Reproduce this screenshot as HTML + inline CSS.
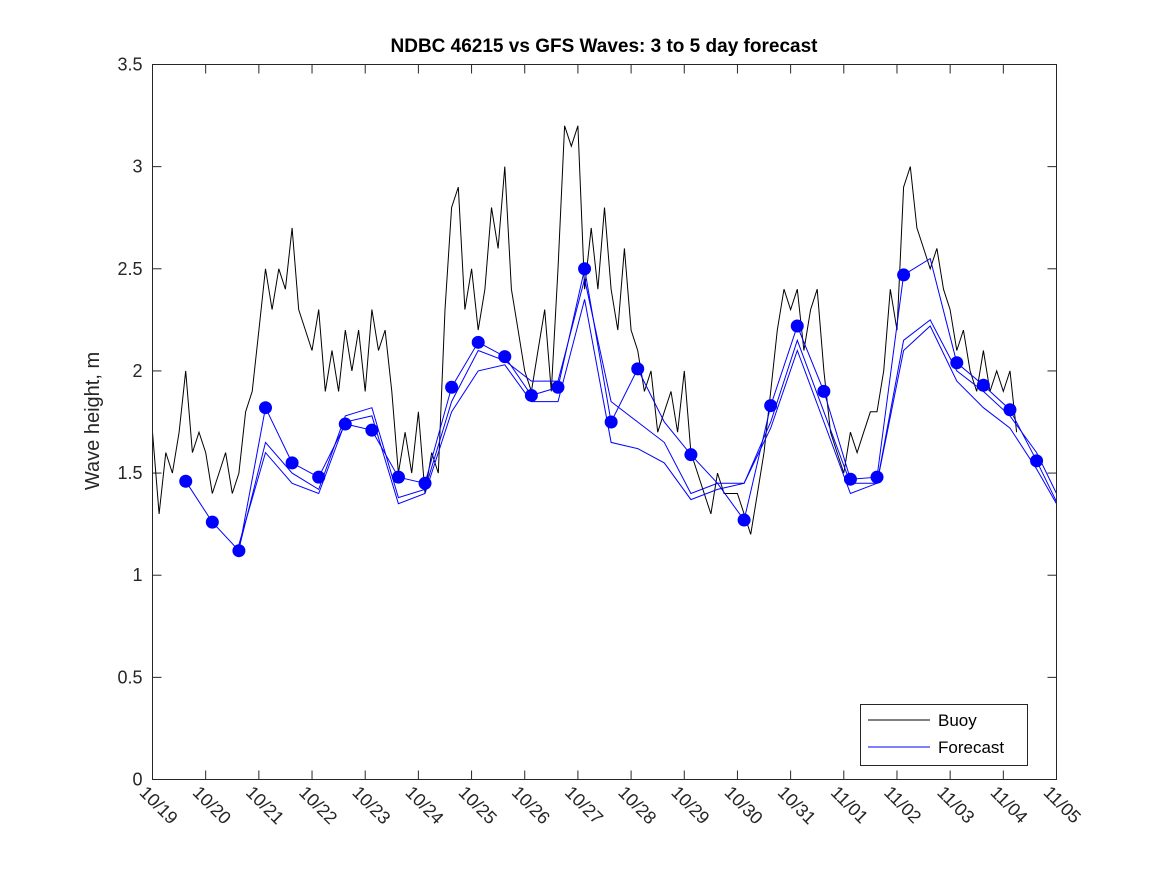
<!DOCTYPE html>
<html><head><meta charset="utf-8"><style>
body{margin:0;background:#fff}
svg{font-family:"Liberation Sans",sans-serif}
</style></head><body>
<svg id="chart" width="1167" height="875">
<rect x="0" y="0" width="1167" height="875" fill="#fff"/>
<text x="604" y="52" text-anchor="middle" font-size="19" font-weight="bold" fill="#000">NDBC 46215 vs GFS Waves: 3 to 5 day forecast</text>
<text transform="translate(99,421) rotate(-90)" text-anchor="middle" font-size="20" fill="#262626">Wave height, m</text>
<g id="plot"></g>
<rect x="152.5" y="64.5" width="904" height="715" fill="none" stroke="#262626" stroke-width="1"/>
<g>
<rect x="860.5" y="704.5" width="167" height="61" fill="#fff" stroke="#262626"/>
<line x1="868" y1="720" x2="930" y2="720" stroke="#000"/>
<text x="938" y="726" font-size="17" fill="#000">Buoy</text>
<line x1="868" y1="747" x2="930" y2="747" stroke="#00f"/>
<text x="938" y="753" font-size="17" fill="#000">Forecast</text>
</g>
</svg>
<script>
const xTickLabels=["10/19","10/20","10/21","10/22","10/23","10/24","10/25","10/26","10/27","10/28","10/29","10/30","10/31","11/01","11/02","11/03","11/04","11/05"];
const yTicks=[0,0.5,1,1.5,2,2.5,3,3.5];
const yTickLabels=["0","0.5","1","1.5","2","2.5","3","3.5"];
const buoy=[1.7,1.3,1.6,1.5,1.7,2.0,1.6,1.7, 1.6,1.4,1.5,1.6,1.4,1.5,1.8,1.9, 2.2,2.5,2.3,2.5,2.4,2.7,2.3,2.2, 2.1,2.3,1.9,2.1,1.9,2.2,2.0,2.2, 1.9,2.3,2.1,2.2,1.9,1.5,1.7,1.5, 1.8,1.4,1.6,1.5,2.3,2.8,2.9,2.3, 2.5,2.2,2.4,2.8,2.6,3.0,2.4,2.2, 2.0,1.9,2.1,2.3,1.9,2.5,3.2,3.1, 3.2,2.4,2.7,2.4,2.8,2.4,2.2,2.6, 2.2,2.1,1.9,2.0,1.7,1.8,1.9,1.7, 2.0,1.6,1.5,1.4,1.3,1.5,1.4,1.4, 1.4,1.3,1.2,1.4,1.6,1.9,2.2,2.4, 2.3,2.4,2.1,2.3,2.4,2.0,1.7,1.6, 1.5,1.7,1.6,1.7,1.8,1.8,2.0,2.4, 2.2,2.9,3.0,2.7,2.6,2.5,2.6,2.4, 2.3,2.1,2.2,2.0,1.9,2.1,1.9,2.0, 1.9,2.0,1.7];
const fcA=[1.46,1.26,1.12,1.82,1.55,1.48,1.74,1.71,1.48,1.45,1.92,2.14,2.07,1.88,1.92,2.50,1.75,2.01,1.75,1.59,1.45,1.27,1.83,2.22,1.90,1.47,1.48,2.47,2.55,2.04,1.93,1.81,1.56,1.36];
const fcB=[null,null,1.13,1.65,1.50,1.42,1.78,1.82,1.38,1.42,1.85,2.10,2.05,1.95,1.95,2.45,1.85,1.75,1.65,1.40,1.45,1.45,1.75,2.15,1.80,1.45,1.45,2.15,2.25,2.00,1.90,1.78,1.60,1.40];
const fcC=[null,null,1.15,1.60,1.45,1.40,1.75,1.78,1.35,1.40,1.80,2.00,2.03,1.85,1.85,2.35,1.65,1.62,1.55,1.37,1.42,1.45,1.72,2.10,1.75,1.40,1.45,2.10,2.22,1.95,1.82,1.72,1.52,1.35];
const dots=[1.46,1.26,1.12,1.82,1.55,1.48,1.74,1.71,1.48,1.45,1.92,2.14,2.07,1.88,1.92,2.50,1.75,2.01,null,1.59,null,1.27,1.83,2.22,1.90,1.47,1.48,2.47,null,2.04,1.93,1.81,1.56];

const X0=152.5,X1=1056.5,Y0=779.5,Y1=64.5;
const xs=d=>X0+(X1-X0)*d/17;
const ys=v=>Y0-(Y0-Y1)*v/3.5;
const NS="http://www.w3.org/2000/svg";
const plot=document.getElementById('plot');
function mk(t,a){const e=document.createElementNS(NS,t);for(const k in a)e.setAttribute(k,a[k]);plot.appendChild(e);return e;}

yTicks.forEach((v,i)=>{
  const y=ys(v);
  const t1=mk('line',{x1:X0,y1:y,x2:X0+9,y2:y,stroke:'#262626'});
  
  
  const t2=mk('line',{x1:X1-9,y1:y,x2:X1,y2:y,stroke:'#262626'});
  
  
  const tx=mk('text',{x:X0-10,y:y+6,'text-anchor':'end','font-size':'18',fill:'#262626'});
  tx.textContent=yTickLabels[i];
  
  
});
xTickLabels.forEach((l,i)=>{
  const x=xs(i);
  const t1=mk('line',{x1:x,y1:Y0,x2:x,y2:Y0-9,stroke:'#262626'});
  
  
  const t2=mk('line',{x1:x,y1:Y1,x2:x,y2:Y1+9,stroke:'#262626'});
  
  
  const tx=mk('text',{transform:`translate(${x-14},${Y0+14}) rotate(45)`,'font-size':'18',fill:'#262626'});
  tx.textContent=l;
  
  
});

function line(arr,t0,dt,color,name){
  let d='',pen=false;
  arr.forEach((v,i)=>{
    if(v==null){pen=false;return;}
    const t=t0+dt*i; if(t>17){ }
    const x=Math.min(xs(t),X1);
    d+=(pen?'L':'M')+x.toFixed(1)+','+ys(v).toFixed(1);pen=true;
  });
  const p=mk('path',{d:d,fill:'none',stroke:color,'stroke-width':'1'});
  
  
}
line(buoy,0,0.125,'#000','buoy-line');
line(fcA,0.625,0.5,'#00f','forecast-line-a');
line(fcB,0.625,0.5,'#00f','forecast-line-b');
line(fcC,0.625,0.5,'#00f','forecast-line-c');
dots.forEach((v,i)=>{
  if(v==null)return;
  const c=mk('circle',{cx:xs(0.625+0.5*i),cy:ys(v),r:6.5,fill:'#00f'});
  
  
});
</script>
</body></html>
